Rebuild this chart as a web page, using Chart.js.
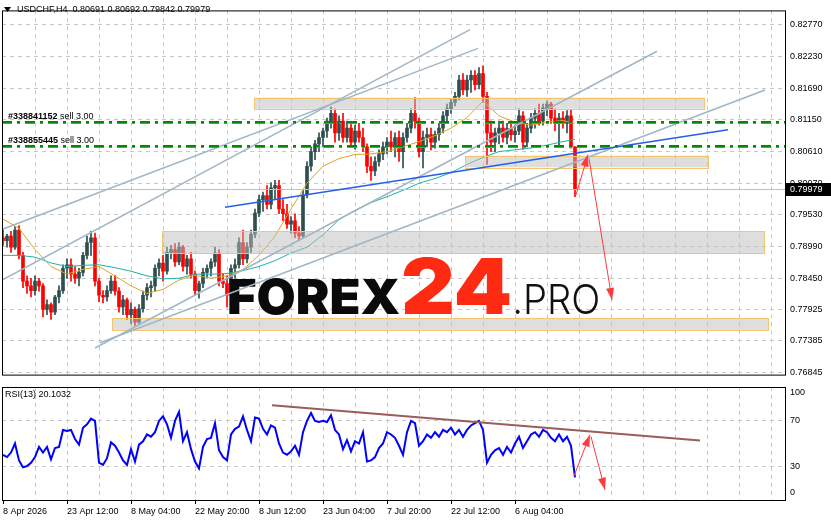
<!DOCTYPE html>
<html>
<head>
<meta charset="utf-8">
<script src="https://cdn.jsdelivr.net/npm/chart.js@4.4.1/dist/chart.umd.min.js"></script>
<style>
  html, body { margin: 0; padding: 0; background: #fff; }
  #wrap { position: relative; width: 831px; height: 521px; }
  canvas { position: absolute; left: 0; }
  #main { top: 0; }
  #rsi { top: 385px; }
</style>
</head>
<body>
<div id="wrap">
  <canvas id="main" width="831" height="385"></canvas>
  <canvas id="rsi" width="831" height="136"></canvas>
</div>
<script>
// time axis labels, one every 16 slots (each slot = 4 H4 bars)
const dateLabels = ['8 Apr 2026', '23 Apr 12:00', '8 May 04:00', '22 May 20:00', '8 Jun 12:00',
  '23 Jun 04:00', '7 Jul 20:00', '22 Jul 12:00', '6 Aug 04:00'];

const priceTicks = [0.82770, 0.82230, 0.81690, 0.81150, 0.80610, 0.80070, 0.79530,
  0.78990, 0.78450, 0.77925, 0.77385, 0.76845];

// USDCHF H4 candles
const openP = [
  .7914,.7909,.7917,.7898,.7927,.7884,.7840,.7832,.7824,.7840,
  .7832,.7792,.7800,.7787,.7813,.7824,.7862,.7868,.7852,.7845,
  .7855,.7884,.7906,.7914,.7840,.7816,.7813,.7824,.7840,.7823,
  .7796,.7808,.7783,.7792,.7770,.7793,.7816,.7829,.7832,.7862,
  .7871,.7857,.7889,.7894,.7873,.7898,.7865,.7878,.7852,.7824,
  .7836,.7855,.7862,.7873,.7888,.7840,.7836,.7816,.7862,.7868,
  .7906,.7878,.7898,.7920,.7956,.7979,.7986,.7971,.7999,.8003,
  .7963,.7955,.7937,.7943,.7922,.7917,.7987,.8036,.8061,.8074,
  .8085,.8096,.8113,.8126,.8093,.8113,.8085,.8101,.8077,.8096,
  .8085,.8069,.8036,.8028,.8044,.8057,.8069,.8077,.8069,.8085,
  .8061,.8085,.8101,.8126,.8113,.8061,.8085,.8090,.8077,.8090,
  .8101,.8122,.8134,.8145,.8155,.8183,.8166,.8183,.8191,.8175,
  .8194,.8155,.8093,.8077,.8093,.8101,.8085,.8100,.8090,.8096,
  .8122,.8077,.8101,.8118,.8126,.8113,.8135,.8142,.8118,.8109,
  .8118,.8109,.8122,.80691
];
const highP = [
  .7927,.7920,.7925,.7933,.7935,.7889,.7849,.7845,.7849,.7845,
  .7836,.7808,.7803,.7816,.7832,.7868,.7878,.7878,.7865,.7862,
  .7889,.7917,.7925,.7922,.7845,.7824,.7832,.7849,.7850,.7829,
  .7816,.7811,.7803,.7796,.7800,.7823,.7836,.7840,.7868,.7878,
  .7884,.7898,.7901,.7904,.7906,.7901,.7884,.7889,.7857,.7840,
  .7862,.7868,.7878,.7898,.7894,.7852,.7849,.7868,.7878,.7914,
  .7927,.7906,.7927,.7963,.7987,.7992,.8003,.8008,.8012,.8012,
  .7979,.7971,.7950,.7955,.7933,.7995,.8044,.8069,.8080,.8093,
  .8101,.8118,.8137,.8134,.8122,.8126,.8113,.8109,.8106,.8109,
  .8101,.8074,.8052,.8052,.8064,.8077,.8085,.8096,.8093,.8096,
  .8093,.8109,.8134,.8153,.8118,.8096,.8101,.8101,.8096,.8109,
  .8129,.8142,.8150,.8162,.8191,.8194,.8191,.8199,.8199,.8204,
  .8207,.8162,.8113,.8101,.8113,.8113,.8109,.8113,.8106,.8134,
  .8129,.8109,.8126,.8134,.8142,.8142,.8147,.8145,.8134,.8126,
  .8129,.8131,.8132,.80692
];
const lowP = [
  .7901,.7898,.7889,.7894,.7878,.7829,.7819,.7813,.7816,.7823,
  .7779,.7783,.7775,.7783,.7803,.7819,.7845,.7840,.7836,.7832,
  .7849,.7878,.7884,.7832,.7805,.7803,.7806,.7819,.7816,.7787,
  .7783,.7775,.7767,.7764,.7767,.7787,.7808,.7813,.7824,.7849,
  .7840,.7852,.7878,.7865,.7868,.7857,.7852,.7845,.7816,.7811,
  .7829,.7845,.7849,.7865,.7832,.7829,.7796,.7813,.7845,.7862,
  .7868,.7871,.7889,.7914,.7950,.7959,.7963,.7963,.7979,.7955,
  .7943,.7930,.7922,.7914,.7909,.7914,.7982,.8028,.8047,.8061,
  .8069,.8085,.8101,.8077,.8080,.8077,.8077,.8069,.8065,.8077,
  .8061,.8025,.8012,.8020,.8036,.8047,.8057,.8061,.8052,.8044,
  .8033,.8077,.8093,.8101,.8052,.8033,.8069,.8064,.8067,.8080,
  .8093,.8109,.8126,.8139,.8149,.8158,.8155,.8162,.8166,.8168,
  .8145,.8039,.8061,.8061,.8074,.8077,.8074,.8080,.8077,.8090,
  .8065,.8069,.8093,.8101,.8106,.8106,.8122,.8109,.8096,.8072,
  .8101,.8093,.8067,.79842
];
const closeP = [
  .7909,.7917,.7898,.7927,.7884,.7840,.7832,.7824,.7840,.7832,
  .7792,.7800,.7787,.7813,.7824,.7862,.7868,.7852,.7845,.7855,
  .7884,.7906,.7914,.7840,.7816,.7813,.7824,.7840,.7823,.7796,
  .7808,.7783,.7792,.7770,.7793,.7816,.7829,.7832,.7862,.7871,
  .7857,.7889,.7894,.7873,.7898,.7865,.7878,.7852,.7824,.7836,
  .7855,.7862,.7873,.7888,.7840,.7836,.7816,.7862,.7868,.7906,
  .7878,.7898,.7920,.7956,.7979,.7986,.7971,.7999,.8003,.7963,
  .7955,.7937,.7943,.7922,.7917,.7987,.8036,.8061,.8074,.8085,
  .8096,.8113,.8126,.8093,.8113,.8085,.8101,.8077,.8096,.8085,
  .8069,.8036,.8028,.8044,.8057,.8069,.8077,.8069,.8085,.8061,
  .8085,.8101,.8126,.8113,.8061,.8085,.8090,.8077,.8090,.8101,
  .8122,.8134,.8145,.8155,.8183,.8166,.8183,.8191,.8175,.8194,
  .8155,.8093,.8077,.8093,.8101,.8085,.8100,.8090,.8096,.8122,
  .8077,.8101,.8118,.8126,.8113,.8135,.8142,.8118,.8109,.8118,
  .8109,.8122,.8069,.79979
];

// moving averages, read at every 4th slot
const maSlots = [0,4,8,12,16,20,24,28,32,36,40,44,48,52,56,60,64,68,72,76,80,84,88,92,96,
  100,104,108,112,116,120,124,128,132,136,140,143];
const maFast = [.7946,.7930,.7894,.7865,.7852,.7860,.7865,.7849,.7832,.7819,.7826,.7842,.7850,
  .7845,.7849,.7860,.7884,.7917,.7963,.8007,.8036,.8049,.8056,.8057,.8061,.8069,.8078,.8088,
  .8101,.8119,.8147,.8122,.8111,.8106,.8111,.8114,.8109];
const maSlow = [.7884,.7884,.7881,.7871,.7865,.7867,.7868,.7863,.7857,.7849,.7844,.7845,.7852,
  .7852,.7853,.7858,.7865,.7875,.7888,.7898,.7919,.7945,.7961,.7974,.7984,.7995,.8007,.8015,
  .8025,.8039,.8051,.8061,.8064,.8067,.8072,.8078,.8082];

// RSI(13)
const rsiValues = [
  40,38,42,50,35,29,30,33,38,47, 42,47,36,46,47,62,61,62,54,49,
  64,67,72,70,33,31,37,51,48,42, 35,31,45,34,49,52,58,56,60,70,
  74,67,55,70,78,52,60,45,34,28, 47,54,55,68,44,38,35,58,63,65,
  74,62,52,73,72,63,58,66,64,50, 42,40,43,48,40,60,70,77,70,69,
  70,69,75,62,58,45,53,43,52,50, 60,34,35,38,46,50,60,58,55,48,
  40,60,70,68,48,52,58,55,60,56, 62,60,64,58,62,56,62,66,68,70,
  62,33,40,44,46,40,47,42,50,56, 46,52,58,60,56,62,60,55,52,58,
  52,56,48,20.1032
];

const lastPrice = 0.79979;
const orderLines = [
  { id: '#338841152', text: ' sell 3.00', price: 0.8111 },
  { id: '#338855445', text: ' sell 3.00', price: 0.8070 }
];
// [slotFrom, slotTo, priceTop, priceBottom]
const zones = [
  [62.75, 175.25, 0.8153, 0.8134],
  [115.5, 176.25, 0.8054, 0.8034],
  [39.75, 190.25, 0.7925, 0.7888],
  [27.25, 191.25, 0.7777, 0.7757]
];
// [slot1, price1, slot2, price2]
const channelLines = [
  [-0.75, 0.7927, 118.75, 0.8237],
  [-0.75, 0.7840, 116.75, 0.8269],
  [23, 0.7726, 163.5, 0.8232],
  [24.25, 0.7735, 190.5, 0.8166]
];
const blueLine = [55.5, 0.7966, 181.25, 0.8098];
const mainArrows = [[143.25, 0.7987, 146.25, 0.8056], [146.5, 0.8049, 152.25, 0.7808]];
const rsiTrend = [67.25, 83.9, 174.25, 52.6];
const rsiArrows = [[142.75, 21.3, 146.75, 57.8], [147, 56.1, 150.5, 9.1]];

const BULL = '#2f4f4f';
const BEAR = '#ff0000';
const GRID = '#c8c8c8';
const FONT = 'Liberation Sans';
const X_MIN = -0.25, X_MAX = 195.5;

const gridSlots = [];
for (let s = 0; s <= 192; s += 8) gridSlots.push(s);

const slots = closeP.map((c, i) => i);
const candleColors = slots.map(i => closeP[i] >= openP[i] ? BULL : BEAR);

function arrow(ctx, x1, y1, x2, y2, color) {
  ctx.strokeStyle = color; ctx.fillStyle = color; ctx.lineWidth = 1;
  ctx.beginPath(); ctx.moveTo(x1, y1); ctx.lineTo(x2, y2); ctx.stroke();
  const a = Math.atan2(y2 - y1, x2 - x1), L = 12, W = 4;
  ctx.beginPath();
  ctx.moveTo(x2, y2);
  ctx.lineTo(x2 - L * Math.cos(a) + W * Math.sin(a), y2 - L * Math.sin(a) - W * Math.cos(a));
  ctx.lineTo(x2 - L * Math.cos(a) - W * Math.sin(a), y2 - L * Math.sin(a) + W * Math.cos(a));
  ctx.closePath(); ctx.fill();
}

function fitText(ctx, text, font, color, x, baseline, w, h) {
  ctx.font = font;
  const m = ctx.measureText(text);
  const tw = m.actualBoundingBoxRight + m.actualBoundingBoxLeft;
  const th = m.actualBoundingBoxAscent;
  ctx.save();
  ctx.translate(x, baseline);
  ctx.scale(w / tw, h / th);
  ctx.fillStyle = color;
  ctx.textBaseline = 'alphabetic';
  ctx.textAlign = 'left';
  ctx.fillText(text, m.actualBoundingBoxLeft, 0);
  ctx.restore();
}

function frame(ctx, a) {
  ctx.strokeStyle = '#000'; ctx.lineWidth = 1;
  ctx.strokeRect(a.left + 0.5, a.top + 0.5, a.right - a.left, a.bottom - a.top);
}

const xGridColor = c => (c.tick && c.tick.value > 0) ? GRID : 'transparent';

const mainOverlay = {
  id: 'mainOverlay',
  afterDatasetsDraw(chart) {
    const { ctx, chartArea: a, scales: { x, y } } = chart;
    ctx.save();
    ctx.beginPath(); ctx.rect(a.left, a.top, a.right - a.left, a.bottom - a.top); ctx.clip();

    // watermark
    fitText(ctx, 'FOREX', '900 50px Inter, Roboto, sans-serif', '#0a0a0a', 229, 314, 171, 36);
    fitText(ctx, '24', '900 80px Inter, Roboto, sans-serif', '#ff2a12', 403, 314, 107, 57);
    fitText(ctx, '.PRO', '300 40px Inter, Roboto, sans-serif', '#111', 515, 314, 83, 30);

    // bid line
    const by = Math.round(y.getPixelForValue(lastPrice)) + 0.5;
    ctx.strokeStyle = '#c0c0c0'; ctx.lineWidth = 1;
    ctx.beginPath(); ctx.moveTo(a.left, by); ctx.lineTo(a.right, by); ctx.stroke();

    // zones
    zones.forEach(z => {
      const x1 = x.getPixelForValue(z[0]), x2 = x.getPixelForValue(z[1]);
      const y1 = y.getPixelForValue(z[2]), y2 = y.getPixelForValue(z[3]);
      ctx.fillStyle = 'rgba(190,190,190,0.5)';
      ctx.fillRect(x1, y1, x2 - x1, y2 - y1);
      ctx.strokeStyle = '#f2c56e'; ctx.lineWidth = 1;
      ctx.strokeRect(Math.round(x1) + 0.5, Math.round(y1) + 0.5, Math.round(x2 - x1), Math.round(y2 - y1));
    });

    // channel lines
    ctx.strokeStyle = 'rgb(160,182,198)'; ctx.lineWidth = 1.5;
    channelLines.forEach(l => {
      ctx.beginPath();
      ctx.moveTo(x.getPixelForValue(l[0]), y.getPixelForValue(l[1]));
      ctx.lineTo(x.getPixelForValue(l[2]), y.getPixelForValue(l[3]));
      ctx.stroke();
    });

    // blue trendline
    ctx.strokeStyle = 'rgb(35,95,235)'; ctx.lineWidth = 1.5;
    ctx.beginPath();
    ctx.moveTo(x.getPixelForValue(blueLine[0]), y.getPixelForValue(blueLine[1]));
    ctx.lineTo(x.getPixelForValue(blueLine[2]), y.getPixelForValue(blueLine[3]));
    ctx.stroke();

    // order lines
    orderLines.forEach(o => {
      const oy = Math.round(y.getPixelForValue(o.price));
      ctx.setLineDash([10, 5, 3, 5]);
      ctx.strokeStyle = '#ff5a00'; ctx.lineWidth = 1;
      ctx.beginPath(); ctx.moveTo(a.left, oy + 1.5); ctx.lineTo(a.right, oy + 1.5); ctx.stroke();
      ctx.strokeStyle = '#008a00'; ctx.lineWidth = 2;
      ctx.beginPath(); ctx.moveTo(a.left, oy); ctx.lineTo(a.right, oy); ctx.stroke();
      ctx.setLineDash([]);
      ctx.fillStyle = '#000'; ctx.textBaseline = 'alphabetic'; ctx.textAlign = 'left';
      ctx.font = 'bold 9px ' + FONT;
      ctx.fillText(o.id, 8, oy - 3);
      const w = ctx.measureText(o.id).width;
      ctx.font = '9px ' + FONT;
      ctx.fillText(o.text, 8 + w, oy - 3);
    });

    // arrows
    mainArrows.forEach(r => arrow(ctx, x.getPixelForValue(r[0]), y.getPixelForValue(r[1]),
      x.getPixelForValue(r[2]), y.getPixelForValue(r[3]), '#ff3b3b'));
    ctx.restore();
  },
  afterDraw(chart) {
    const { ctx, chartArea: a, scales: { y } } = chart;
    ctx.save();
    frame(ctx, a);
    // price label box
    const py = Math.round(y.getPixelForValue(lastPrice));
    ctx.fillStyle = '#000';
    ctx.fillRect(a.right + 1, py - 6, 831 - a.right - 1, 13);
    ctx.fillStyle = '#fff'; ctx.font = '9px ' + FONT;
    ctx.textBaseline = 'middle'; ctx.textAlign = 'left';
    ctx.fillText(lastPrice.toFixed(5), a.right + 5, py + 1);
    // title
    ctx.fillStyle = '#000';
    ctx.beginPath(); ctx.moveTo(4, 7); ctx.lineTo(11, 7); ctx.lineTo(7.5, 12); ctx.closePath(); ctx.fill();
    ctx.fillText('USDCHF,H4  0.80691 0.80692 0.79842 0.79979', 17, 10);
    ctx.restore();
  }
};

new Chart(document.getElementById('main'), {
  type: 'bar',
  data: {
    datasets: [
      {
        type: 'line', data: maSlots.map((s, i) => ({ x: s, y: maFast[i] })),
        borderColor: '#daa520', borderWidth: 1, pointRadius: 0, order: 0
      },
      {
        type: 'line', data: maSlots.map((s, i) => ({ x: s, y: maSlow[i] })),
        borderColor: '#20b2aa', borderWidth: 1, pointRadius: 0, order: 0
      },
      {
        data: slots.map(i => ({ x: i, y: [openP[i], closeP[i]] })),
        backgroundColor: candleColors, barThickness: 3, minBarLength: 1,
        grouped: false, borderWidth: 0, order: 1
      },
      {
        data: slots.map(i => ({ x: i, y: [lowP[i], highP[i]] })),
        backgroundColor: candleColors, barThickness: 1,
        grouped: false, borderWidth: 0, order: 2
      }
    ]
  },
  options: {
    responsive: false,
    animation: false,
    layout: { padding: { left: 2, top: 2, right: 0, bottom: 0 } },
    plugins: { legend: { display: false }, tooltip: { enabled: false } },
    scales: {
      x: {
        type: 'linear', min: X_MIN, max: X_MAX, offset: false,
        afterBuildTicks: s => { s.ticks = gridSlots.map(v => ({ value: v })); },
        ticks: { display: false },
        grid: { color: xGridColor, drawTicks: false, offset: false },
        border: { display: false, dash: [4, 4] },
        afterFit: s => { s.height = 2; }
      },
      y: {
        position: 'right', min: 0.76807, max: 0.83017,
        afterBuildTicks: s => { s.ticks = priceTicks.map(v => ({ value: v })); },
        ticks: {
          callback: v => v.toFixed(5), color: '#000', padding: 5, autoSkip: false,
          font: { family: FONT, size: 9 }
        },
        grid: { color: GRID, drawTicks: false },
        border: { display: false, dash: [4, 4] },
        afterFit: s => { s.width = 46; }
      }
    }
  },
  plugins: [mainOverlay]
});

const rsiOverlay = {
  id: 'rsiOverlay',
  afterDatasetsDraw(chart) {
    const { ctx, chartArea: a, scales: { x, y } } = chart;
    ctx.save();
    ctx.beginPath(); ctx.rect(a.left, a.top, a.right - a.left, a.bottom - a.top); ctx.clip();
    ctx.strokeStyle = '#9a5c5c'; ctx.lineWidth = 2;
    ctx.beginPath();
    ctx.moveTo(x.getPixelForValue(rsiTrend[0]), y.getPixelForValue(rsiTrend[1]));
    ctx.lineTo(x.getPixelForValue(rsiTrend[2]), y.getPixelForValue(rsiTrend[3]));
    ctx.stroke();
    rsiArrows.forEach(r => arrow(ctx, x.getPixelForValue(r[0]), y.getPixelForValue(r[1]),
      x.getPixelForValue(r[2]), y.getPixelForValue(r[3]), '#ff3b3b'));
    ctx.restore();
  },
  afterDraw(chart) {
    const { ctx, chartArea: a, scales: { y } } = chart;
    ctx.save();
    frame(ctx, a);
    ctx.fillStyle = '#000'; ctx.font = '9px ' + FONT;
    ctx.textBaseline = 'middle'; ctx.textAlign = 'left';
    [100, 70, 30, 0].forEach(v => {
      const py = Math.min(Math.max(y.getPixelForValue(v), a.top + 6), a.bottom - 7);
      ctx.fillText(String(v), a.right + 5, py);
    });
    ctx.fillText('RSI(13) ' + rsiValues[rsiValues.length - 1].toFixed(4), 5, 10);
    ctx.restore();
  }
};

new Chart(document.getElementById('rsi'), {
  type: 'line',
  data: {
    datasets: [{
      data: rsiValues.map((v, i) => ({ x: i, y: v })),
      borderColor: '#0000ff', borderWidth: 2, pointRadius: 0, tension: 0
    }]
  },
  options: {
    responsive: false,
    animation: false,
    layout: { padding: { left: 2, top: 2, right: 0, bottom: 0 } },
    plugins: { legend: { display: false }, tooltip: { enabled: false } },
    scales: {
      x: {
        type: 'linear', min: X_MIN, max: X_MAX, offset: false,
        afterBuildTicks: s => { s.ticks = gridSlots.map(v => ({ value: v })); },
        ticks: {
          autoSkip: false, maxRotation: 0, align: 'start', color: '#000', padding: 2,
          font: { family: FONT, size: 9 },
          callback: v => (v % 16 === 0 && dateLabels[v / 16]) ? dateLabels[v / 16] : ''
        },
        grid: {
          color: xGridColor, tickLength: 4, offset: false,
          tickColor: c => (c.tick && c.tick.value % 16 === 0 && dateLabels[c.tick.value / 16]) ? '#000' : 'transparent'
        },
        border: { display: false, dash: [4, 4] },
        afterFit: s => { s.height = 21; }
      },
      y: {
        position: 'right', min: 0, max: 100,
        afterBuildTicks: s => { s.ticks = [30, 70].map(v => ({ value: v })); },
        ticks: { display: false },
        grid: { color: GRID, drawTicks: false },
        border: { display: false, dash: [4, 4] },
        afterFit: s => { s.width = 46; }
      }
    }
  },
  plugins: [rsiOverlay]
});
</script>
</body>
</html>
